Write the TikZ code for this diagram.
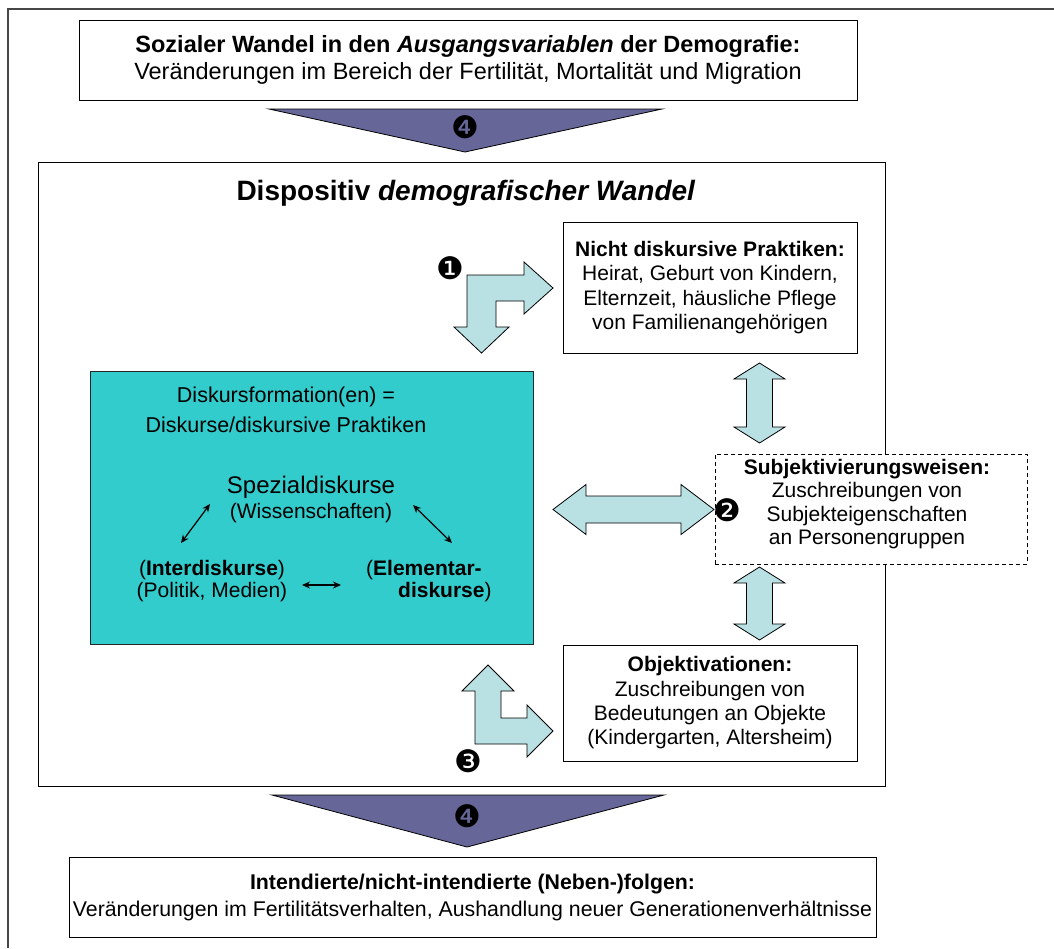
\documentclass[tikz,border=0pt]{standalone}
\usepackage{fontspec}
\setmainfont{Liberation Sans}
\newfontfamily\dingfont{DejaVu Sans}
\usetikzlibrary{arrows.meta}
\definecolor{arrowblue}{RGB}{185,225,228}
\definecolor{wedgepurple}{RGB}{102,102,153}
\definecolor{tealfill}{RGB}{51,204,204}
\definecolor{framegray}{RGB}{70,70,70}
\newcommand{\fs}[2]{\fontsize{#1}{#2}\selectfont}
\begin{document}
\begin{tikzpicture}[x=1pt,y=-1pt,
  box/.style={draw=black, line width=1pt, fill=white, inner sep=0pt, align=center},
  txt/.style={inner sep=0pt, align=center},
  fatarrow/.style={draw=black, line width=0.8pt, fill=arrowblue, line join=miter},
  wedge/.style={draw=black, line width=0.8pt, fill=wedgepurple, line join=miter},
  num/.style={font=\dingfont\fs{31}{31}, inner sep=0pt},
  thinarrow/.style={{Stealth[length=8pt,width=7pt]}-{Stealth[length=8pt,width=7pt]}, line width=1.2pt}]
\useasboundingbox (0,0) rectangle (1054,948);
\fill[white] (0,0) rectangle (1054,948);

% outer frame (top and left edges)
\draw[framegray, line width=1.6pt] (8,948) -- (8,9) -- (1054,9);

% source box
\node[box, minimum width=778, minimum height=80, font=\fs{23.5}{27}] (src) at (468,60)
  {\textbf{Sozialer Wandel in den \textit{Ausgangsvariablen} der Demografie:}\\
   Veränderungen im Bereich der Fertilität, Mortalität und Migration};

% upper wedge
\path[wedge] (269,109) -- (662,109) -- (465,152) -- cycle;
\node[num, text=black] (n4a) at (465,127) {❹};

% dispositive frame
\node[box, minimum width=847, minimum height=624] (dispo) at (461.5,474) {};
\node[txt, font=\fs{28}{32}] (title) at (466,193)
  {\textbf{Dispositiv \textit{demografischer Wandel}}};

% discourse formation box
\node[draw=black!85, line width=1pt, fill=tealfill, minimum width=443, minimum height=273, inner sep=0pt] (form) at (311.5,507.5) {};
\node[txt, font=\fs{21.5}{30}] (formtitle) at (286,410)
  {Diskursformation(en) =\\Diskurse/diskursive Praktiken};
\node[txt, font=\fs{24}{26}] (spez) at (311,487) {Spezialdiskurse};
\node[txt, font=\fs{21}{23}] (wiss) at (311,513) {(Wissenschaften)};
\node[txt, font=\fs{21}{22}] (inter) at (212,581)
  {(\textbf{Interdiskurse})\\(Politik, Medien)};
\node[txt, font=\fs{21}{22}, align=left, anchor=west] (elem) at (366,581)
  {(\textbf{Elementar-}\\\hspace*{32pt}\textbf{diskurse})};
\coordinate (a1) at (210,504); \coordinate (a2) at (181,543);
\coordinate (b1) at (413,505); \coordinate (b2) at (452,543);
\coordinate (c1) at (302,585); \coordinate (c2) at (341,585);
\draw[thinarrow] (a1) -- (a2);
\draw[thinarrow] (b1) -- (b2);
\draw[thinarrow] (c1) -- (c2);

% practice boxes
\node[box, minimum width=294, minimum height=131, font=\fs{21}{24.3}] (prak) at (710,287.5)
  {\textbf{Nicht diskursive Praktiken:}\\Heirat, Geburt von Kindern,\\Elternzeit, häusliche Pflege\\von Familienangehörigen};
\node[box, dashed, dash pattern=on 4pt off 3pt, minimum width=312, minimum height=110] (subj) at (871,509) {};
\node[txt, font=\fs{21}{23.3}] (subjtext) at (867,504)
  {\textbf{Subjektivierungsweisen:}\\Zuschreibungen von\\Subjekteigenschaften\\an Personengruppen};
\node[box, minimum width=294, minimum height=116, font=\fs{21}{24.3}] (obj) at (710,703)
  {\textbf{Objektivationen:}\\Zuschreibungen von\\Bedeutungen an Objekte\\(Kindergarten, Altersheim)};

% double arrows between formation and practices
\path[fatarrow] (553,509.5) -- (586,484.5) -- (586,496) -- (681,496) -- (681,484.5)
  -- (714,509.5) -- (681,534.5) -- (681,523) -- (586,523) -- (586,534.5) -- cycle;
\path[fatarrow] (759.5,363) -- (785,379) -- (772.5,379) -- (772.5,427) -- (785,427)
  -- (759.5,443) -- (734,427) -- (746.5,427) -- (746.5,379) -- (734,379) -- cycle;
\path[fatarrow] (759.5,567) -- (785,583) -- (772.5,583) -- (772.5,624) -- (785,624)
  -- (759.5,640) -- (734,624) -- (746.5,624) -- (746.5,583) -- (734,583) -- cycle;

% bent arrow 1
\path[fatarrow] (467,275) -- (524,275) -- (524,262) -- (553,288) -- (524,314) -- (524,301)
  -- (496,301) -- (496,327) -- (509,327) -- (481.5,353) -- (454,327) -- (467,327) -- cycle;
\node[num] (n1) at (450,268) {❶};

% bent arrow 3
\path[fatarrow] (488,665) -- (514,691) -- (501,691) -- (501,718) -- (527,718) -- (527,705)
  -- (553,731) -- (527,757) -- (527,744) -- (475,744) -- (475,691) -- (462,691) -- cycle;
\node[num] (n3) at (468,761) {❸};

\node[num] (n2) at (727,510) {❷};

% lower wedge
\path[wedge] (272,795) -- (664,795) -- (467,847) -- cycle;
\node[num] (n4b) at (467,816) {❹};

% result box
\node[box, minimum width=807, minimum height=80, font=\fs{21.3}{27}] (res) at (472.5,897)
  {\textbf{Intendierte/nicht-intendierte (Neben-)folgen:}\\
   Veränderungen im Fertilitätsverhalten, Aushandlung neuer Generationenverhältnisse};
\end{tikzpicture}
\end{document}
